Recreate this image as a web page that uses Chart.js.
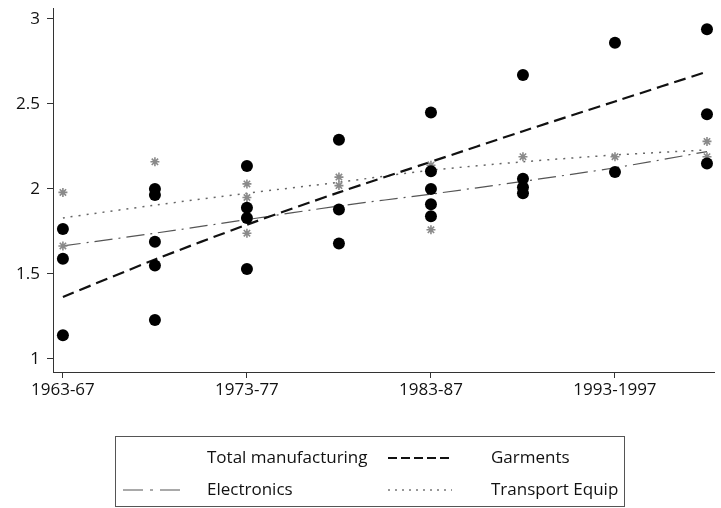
<!DOCTYPE html>
<html><head><meta charset="utf-8">
<script src="https://cdn.jsdelivr.net/npm/chart.js@4.4.1/dist/chart.umd.min.js"></script>
<style>
html,body{margin:0;padding:0;background:#fff;}
#wrap{position:relative;width:721px;height:508px;overflow:hidden;background:#fff;}
#c{position:absolute;left:0;top:0;}
#legend{position:absolute;left:115px;top:436px;width:508px;height:69px;border:1px solid #555;font-family:"Open Sans",sans-serif;font-size:17px;color:#111;}
.item{position:absolute;white-space:nowrap;line-height:20px;}
.sample{position:absolute;overflow:visible;}
</style></head><body>
<div id="wrap"><canvas id="c" width="721" height="508"></canvas><div id="legend"></div></div>
<script>
// ---- data ----
const periods = ['1963-67','1968-72','1973-77','1978-82','1983-87','1988-92','1993-97','1998-02'];
const xTickPos = [0, 2, 4, 6];
const xTickLabels = ['1963-67','1973-77','1983-87','1993-1997'];
const yTickValues = [1, 1.5, 2, 2.5, 3];
const yTickLabels = ['1', '1.5', '2', '2.5', '3'];

// black dots per period
const dotValues = [
  [1.765, 1.59, 1.14],
  [2.0, 1.965, 1.69, 1.55, 1.23],
  [2.135, 1.89, 1.83, 1.53],
  [2.29, 1.88, 1.68],
  [2.45, 2.105, 2.0, 1.91, 1.84],
  [2.67, 2.06, 2.01, 1.975],
  [2.86, 2.10],
  [2.94, 2.44, 2.15]
];
// grey star markers per period
const starValues = [
  [1.98, 1.665],
  [2.16],
  [2.03, 1.95, 1.74],
  [2.07, 2.02],
  [2.14, 1.76],
  [2.19],
  [2.19],
  [2.28, 2.19]
];
// fitted lines
const garments    = [1.365, 1.585, 1.79, 1.98, 2.16, 2.34, 2.515, 2.69];
const electronics = [1.665, 1.74, 1.82, 1.90, 1.97, 2.045, 2.125, 2.22];
const transport   = [1.83, 1.905, 1.975, 2.04, 2.11, 2.16, 2.20, 2.23];

const legendLabels = ['Total manufacturing', 'Garments', 'Electronics', 'Transport Equip'];

// ---- build ----
const toPoints = groups => groups.flatMap((vals, i) => vals.map(v => ({x: i, y: v})));
const toLine = vals => vals.map((v, i) => ({x: i, y: v}));

const FONT = {family: '"Open Sans", sans-serif', size: 17};

new Chart(document.getElementById('c'), {
  type: 'scatter',
  data: {datasets: [
    {label: 'dots', data: toPoints(dotValues), pointStyle: 'circle', pointRadius: 6,
     backgroundColor: '#000', borderColor: '#000', borderWidth: 0, clip: false},
    {label: 'stars', data: toPoints(starValues), pointStyle: 'star', pointRadius: 4.5,
     backgroundColor: '#999', borderColor: '#8a8a8a', borderWidth: 1.6, clip: false},
    {type: 'line', label: 'Garments', data: toLine(garments), borderColor: '#111', borderWidth: 2.2,
     borderDash: [12, 6], pointRadius: 0, fill: false, tension: 0.3, clip: false},
    {type: 'line', label: 'Electronics', data: toLine(electronics), borderColor: '#555', borderWidth: 1.2,
     borderDash: [18, 6, 2, 6], pointRadius: 0, fill: false, tension: 0.3, clip: false},
    {type: 'line', label: 'Transport Equip', data: toLine(transport), borderColor: '#666', borderWidth: 1.5,
     borderDash: [2, 6], pointRadius: 0, fill: false, tension: 0.3, clip: false}
  ]},
  options: {
    responsive: false, animation: false, devicePixelRatio: 1,
    layout: {padding: {top: 8, right: 0, left: 0, bottom: 0}},
    plugins: {legend: {display: false}, tooltip: {enabled: false}},
    scales: {
      x: {
        type: 'linear', min: -0.1077, max: 7.086,
        afterBuildTicks: s => { s.ticks = xTickPos.map(v => ({value: v})); },
        afterFit: s => { s.height = 136; s.paddingLeft = 0; s.paddingRight = 0; },
        ticks: {callback: (v, i) => xTickLabels[i], font: FONT, color: '#111', padding: 2,
                maxRotation: 0, autoSkip: false},
        grid: {drawOnChartArea: false, drawTicks: true, tickLength: 6, color: '#333'},
        border: {display: true, color: '#333', width: 1}
      },
      y: {
        type: 'linear', min: 0.9235, max: 3.0647,
        afterBuildTicks: s => { s.ticks = yTickValues.map(v => ({value: v})); },
        afterFit: s => { s.width = 53; s.paddingTop = 0; s.paddingBottom = 0; },
        ticks: {callback: (v, i) => yTickLabels[i], font: FONT, color: '#111', padding: 7, autoSkip: false},
        grid: {drawOnChartArea: false, drawTicks: true, tickLength: 6, color: '#333'},
        border: {display: true, color: '#333', width: 1}
      }
    }
  }
});

// ---- HTML legend ----
const legend = document.getElementById('legend');
const slots = [
  {tx: 91, ty: 10, sx: 7, dash: null},
  {tx: 375, ty: 10, sx: 272, dash: {c: '#111', w: 2, d: '9 4'}},
  {tx: 91, ty: 42, sx: 7, dash: {c: '#555', w: 1.2, d: '20 7 3 7'}},
  {tx: 375, ty: 42, sx: 272, dash: {c: '#777', w: 1.3, d: '2 5'}}
];
legendLabels.forEach((lab, i) => {
  const s = slots[i];
  const t = document.createElement('div');
  t.className = 'item'; t.style.left = s.tx + 'px'; t.style.top = s.ty + 'px';
  t.textContent = lab; legend.appendChild(t);
  if (s.dash) {
    const ns = 'http://www.w3.org/2000/svg';
    const svg = document.createElementNS(ns, 'svg');
    svg.setAttribute('class', 'sample'); svg.setAttribute('width', '66'); svg.setAttribute('height', '6');
    svg.style.left = s.sx + 'px'; svg.style.top = (s.ty + 8) + 'px';
    const ln = document.createElementNS(ns, 'line');
    ln.setAttribute('x1', '0'); ln.setAttribute('x2', '64'); ln.setAttribute('y1', '3'); ln.setAttribute('y2', '3');
    ln.setAttribute('stroke', s.dash.c); ln.setAttribute('stroke-width', s.dash.w);
    ln.setAttribute('stroke-dasharray', s.dash.d);
    svg.appendChild(ln); legend.appendChild(svg);
  }
});
</script>
</body></html>
